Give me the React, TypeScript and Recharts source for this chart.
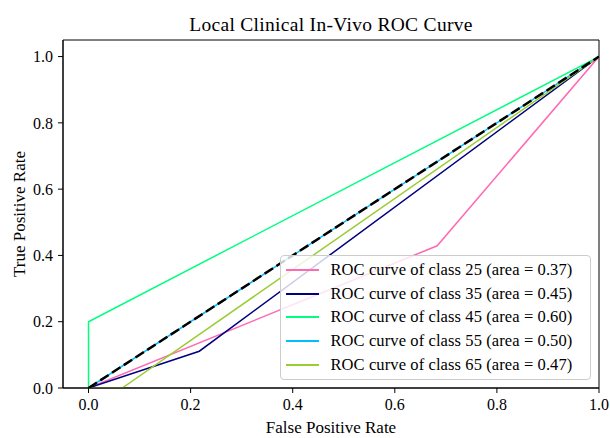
import React from 'react';
import {
  LineChart,
  Line,
  XAxis,
  YAxis,
  ReferenceArea,
  Legend,
} from 'recharts';

// ROC curve points per class (false positive rate / true positive rate)
const classNames = ['25', '35', '45', '55', '65'];
const fpr25 = [0, 0.683, 1];
const tpr25 = [0, 0.429, 1];
const fpr35 = [0, 0.217, 1];
const tpr35 = [0, 0.111, 1];
const fpr45 = [0, 0, 1];
const tpr45 = [0, 0.2, 1];
const fpr55 = [0, 1];
const tpr55 = [0, 1];
const fpr65 = [0, 0.066, 1];
const tpr65 = [0, 0, 1];
const areas = [0.37, 0.45, 0.6, 0.5, 0.47];
const colors = ['#ff69b4', '#000080', '#00ff7f', '#00bfff', '#9acd32'];

// Chance diagonal
const chanceFpr = [0, 1];
const chanceTpr = [0, 1];

const tickValues = [0, 0.2, 0.4, 0.6, 0.8, 1.0];

const FONT = '"Liberation Serif", "DejaVu Serif", serif';

const toPoints = (xs: number[], ys: number[]) =>
  xs.map((x, i) => ({ x, y: ys[i] }));

const curves = [
  toPoints(fpr25, tpr25),
  toPoints(fpr35, tpr35),
  toPoints(fpr45, tpr45),
  toPoints(fpr55, tpr55),
  toPoints(fpr65, tpr65),
];

const LegendBox = (props: any) => {
  const items = (props.payload || []).filter((p: any) => p.type !== 'none');
  return (
    <div
      style={{
        background: 'rgba(255,255,255,0.8)',
        border: '1px solid #cccccc',
        borderRadius: 4,
        padding: '2px 0',
        height: 125,
        fontFamily: FONT,
        fontSize: 16.5,
        letterSpacing: 0.1,
        color: '#000',
        boxSizing: 'border-box',
      }}
    >
      {items.map((p: any) => (
        <div
          key={p.value}
          style={{ display: 'flex', alignItems: 'center', height: 23.7 }}
        >
          <div
            style={{
              width: 33,
              height: 0,
              borderTop: `2px solid ${p.color}`,
              marginLeft: 5,
              marginRight: 11.5,
            }}
          />
          <span style={{ whiteSpace: 'nowrap' }}>{p.value}</span>
        </div>
      ))}
    </div>
  );
};

export default function App() {
  return (
    <div style={{ position: 'absolute', left: 0, top: 0 }}>
      <LineChart
        width={610}
        height={438}
        margin={{ top: 40, right: 11, bottom: 0, left: 0 }}
      >
        <text
          x={331}
          y={31}
          textAnchor="middle"
          style={{ fontFamily: FONT, fontSize: 19.5, letterSpacing: 0.3, fill: '#000' }}
        >
          Local Clinical In-Vivo ROC Curve
        </text>
        <XAxis
          dataKey="x"
          type="number"
          domain={[-0.05, 1.0]}
          ticks={tickValues}
          tickFormatter={(v: number) => v.toFixed(1)}
          allowDataOverflow
          height={50}
          stroke="#000"
          tickSize={5}
          tickMargin={5.5}
          tick={{ fill: '#000', fontFamily: FONT, fontSize: 16 }}
          label={{
            value: 'False Positive Rate',
            position: 'insideBottom',
            offset: 5.5,
            style: { fontFamily: FONT, fontSize: 17, fill: '#000' },
          }}
        />
        <YAxis
          dataKey="y"
          type="number"
          domain={[0, 1.05]}
          ticks={tickValues}
          tickFormatter={(v: number) => v.toFixed(1)}
          allowDataOverflow
          width={63}
          stroke="#000"
          tickSize={5}
          tickMargin={5}
          tick={{ fill: '#000', fontFamily: FONT, fontSize: 16 }}
          label={{
            value: 'True Positive Rate',
            angle: -90,
            position: 'insideLeft',
            offset: 19,
            style: {
              fontFamily: FONT,
              fontSize: 17,
              fill: '#000',
              textAnchor: 'middle',
            },
          }}
        />
        <ReferenceArea
          x1={-0.05}
          x2={1.0}
          y1={0}
          y2={1.05}
          fill="none"
          stroke="#000"
          strokeWidth={1}
          ifOverflow="visible"
        />
        {curves.map((pts, i) => (
          <Line
            key={classNames[i]}
            data={pts}
            dataKey="y"
            type="linear"
            stroke={colors[i]}
            strokeWidth={1.5}
            dot={false}
            activeDot={false}
            isAnimationActive={false}
            name={`ROC curve of class ${classNames[i]} (area = ${areas[i].toFixed(2)})`}
          />
        ))}
        <Line
          data={toPoints(chanceFpr, chanceTpr)}
          dataKey="y"
          type="linear"
          stroke="#000"
          strokeWidth={2.5}
          strokeDasharray="10 4"
          dot={false}
          activeDot={false}
          legendType="none"
          isAnimationActive={false}
          name="chance"
        />
        <Legend
          content={<LegendBox />}
          layout="vertical"
          align="center"
          verticalAlign="middle"
          wrapperStyle={{ position: 'absolute', left: 280, top: 255, width: 311 }}
        />
      </LineChart>
    </div>
  );
}
